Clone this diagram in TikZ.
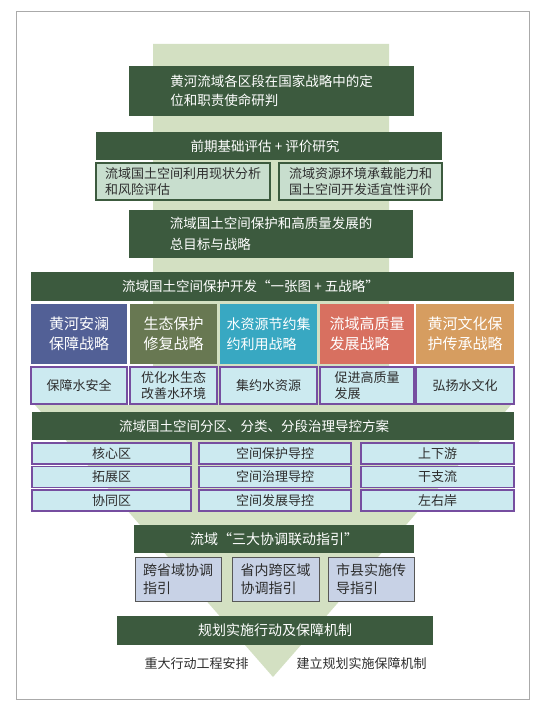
\documentclass[tikz,border=0pt]{standalone}
\usepackage{fontspec}
\setmainfont{Noto Sans CJK SC}
\usepackage{xcolor}
\definecolor{deepgreen}{RGB}{60,90,62}
\definecolor{stemgreen}{RGB}{211,224,194}
\definecolor{sagefill}{RGB}{200,222,206}
\definecolor{slateblue}{RGB}{82,96,150}
\definecolor{olivegreen}{RGB}{104,120,82}
\definecolor{teal}{RGB}{56,168,194}
\definecolor{salmon}{RGB}{216,112,96}
\definecolor{tan}{RGB}{214,157,96}
\definecolor{paleblue}{RGB}{204,234,240}
\definecolor{violet}{RGB}{118,78,160}
\definecolor{greyblue}{RGB}{200,210,230}
\definecolor{inkgrey}{RGB}{45,45,45}
\definecolor{framegrey}{RGB}{170,170,170}
\usepackage{tikz}
\usetikzlibrary{
  positioning
}
\tikzset{
  darkbox/.style={fill=deepgreen, text=white, inner sep=0pt, outer sep=0pt,
    align=left, font=\fontsize{13.5}{19}\selectfont},
  sagebox/.style={draw=deepgreen, line width=1.2pt, fill=sagefill, text=inkgrey,
    inner sep=0pt, outer sep=0pt, align=left,
    font=\fontsize{13}{15.5}\selectfont},
  stratbox/.style={text=white, inner sep=0pt, outer sep=0pt,
    minimum height=60, align=left, font=\fontsize{15}{20}\selectfont},
  aimbox/.style={draw=violet, line width=1.4pt, fill=paleblue, text=inkgrey,
    inner sep=0pt, outer sep=0pt, align=left,
    font=\fontsize{13}{16.5}\selectfont},
  guidebox/.style={draw=inkgrey!80, line width=1pt, fill=greyblue, text=inkgrey,
    inner sep=0pt, outer sep=0pt, minimum width=86, minimum height=44,
    align=left, font=\fontsize{14}{18}\selectfont},
}

\begin{document}
\begin{tikzpicture}[
  x=1pt, y=-1pt,
  cell/.style={aimbox, minimum height=21, font=\fontsize{13}{15}\selectfont},
  plain/.style={text=inkgrey, inner sep=0pt, font=\fontsize{13}{15}\selectfont}
]
  \useasboundingbox (0,0) rectangle (539,708);
  \draw[framegrey, line width=1pt] (16,12) rectangle (529,699);

  % background arrow
  \fill[stemgreen] (153,44) -- (389,44) -- (389,405) -- (511,405)
    -- (273,677) -- (35,405) -- (153,405) -- cycle;

  % positioning
  \node[darkbox, minimum width=285, minimum height=50] (role) at (271.5,91)
    {黄河流域各区段在国家战略中的定\\位和职责使命研判};

  % assessment
  \node[darkbox, minimum width=346, minimum height=28] (assess) at (269,146)
    {前期基础评估 + 评价研究\hspace*{8pt}};
  \node[sagebox, minimum width=174, minimum height=37] (risk) at (183,181.5)
    {流域国土空间利用现状分析\\和风险评估};
  \node[sagebox, minimum width=163, minimum height=37] (capacity) at (360.5,181.5)
    {流域资源环境承载能力和\\国土空间开发适宜性评价};

  % goals
  \node[darkbox, minimum width=284, minimum height=48,
    font=\fontsize{13.5}{21}\selectfont] (goal) at (271,234)
    {流域国土空间保护和高质量发展的\\总目标与战略};

  % one map + five strategies
  \node[darkbox, minimum width=483, minimum height=29] (onemap) at (272.5,286.5)
    {流域国土空间保护开发“一张图 + 五战略”\hspace*{44pt}};
  \node[stratbox, fill=slateblue, minimum width=96] (s1) at (79,334)
    {黄河安澜\\保障战略};
  \node[stratbox, fill=olivegreen, minimum width=87] (s2) at (173.5,334)
    {生态保护\\修复战略};
  \node[stratbox, fill=teal, minimum width=97,
    font=\fontsize{14}{20}\selectfont] (s3) at (268.5,334)
    {水资源节约集\\约利用战略};
  \node[stratbox, fill=salmon, minimum width=94] (s4) at (367,334)
    {流域高质量\\发展战略};
  \node[stratbox, fill=tan, minimum width=98] (s5) at (465,334)
    {黄河文化保\\护传承战略};

  \node[aimbox, minimum width=96, minimum height=37, below=3pt of s1] (a1)
    {保障水安全};
  \node[aimbox, minimum width=87, minimum height=37, below=3pt of s2] (a2)
    {优化水生态\\改善水环境};
  \node[aimbox, minimum width=97, minimum height=37, below=3pt of s3] (a3)
    {集约水资源};
  \node[aimbox, minimum width=94, minimum height=37, below=3pt of s4] (a4)
    {促进高质量\\发展};
  \node[aimbox, minimum width=98, minimum height=37, below=3pt of s5] (a5)
    {弘扬水文化};

  % zoning scheme
  \node[darkbox, minimum width=482, minimum height=28] (zoning) at (273,426)
    {流域国土空间分区、分类、分段治理导控方案\hspace*{38pt}};
  \node[cell, minimum width=159] (core) at (111.5,453.5) {核心区};
  \node[cell, minimum width=159] (expand) at (111.5,477) {拓展区};
  \node[cell, minimum width=159] (coop) at (111.5,500.5) {协同区};
  \node[cell, minimum width=152] (protect) at (275,453.5) {空间保护导控};
  \node[cell, minimum width=152] (govern) at (275,477) {空间治理导控};
  \node[cell, minimum width=152] (develop) at (275,500.5) {空间发展导控};
  \node[cell, minimum width=153] (updown) at (437.5,453.5) {上下游};
  \node[cell, minimum width=153] (trunk) at (437.5,477) {干支流};
  \node[cell, minimum width=153] (banks) at (437.5,500.5) {左右岸};

  % coordination guides
  \node[darkbox, minimum width=280, minimum height=28,
    font=\fontsize{14}{18}\selectfont] (guides) at (274,539)
    {流域“三大协调联动指引”};
  \node[guidebox] (g1) at (178,579) {跨省域协调\\指引};
  \node[guidebox, minimum width=87] (g2) at (275.5,579) {省内跨区域\\协调指引};
  \node[guidebox] (g3) at (371,579) {市县实施传\\导指引};

  % implementation
  \node[darkbox, minimum width=316, minimum height=29,
    font=\fontsize{14}{18}\selectfont] (impl) at (275,630.5)
    {规划实施行动及保障机制};
  \node[plain] (projects) at (196.5,664) {重大行动工程安排};
  \node[plain] (safeguard) at (361.5,664) {建立规划实施保障机制};
\end{tikzpicture}
\end{document}
